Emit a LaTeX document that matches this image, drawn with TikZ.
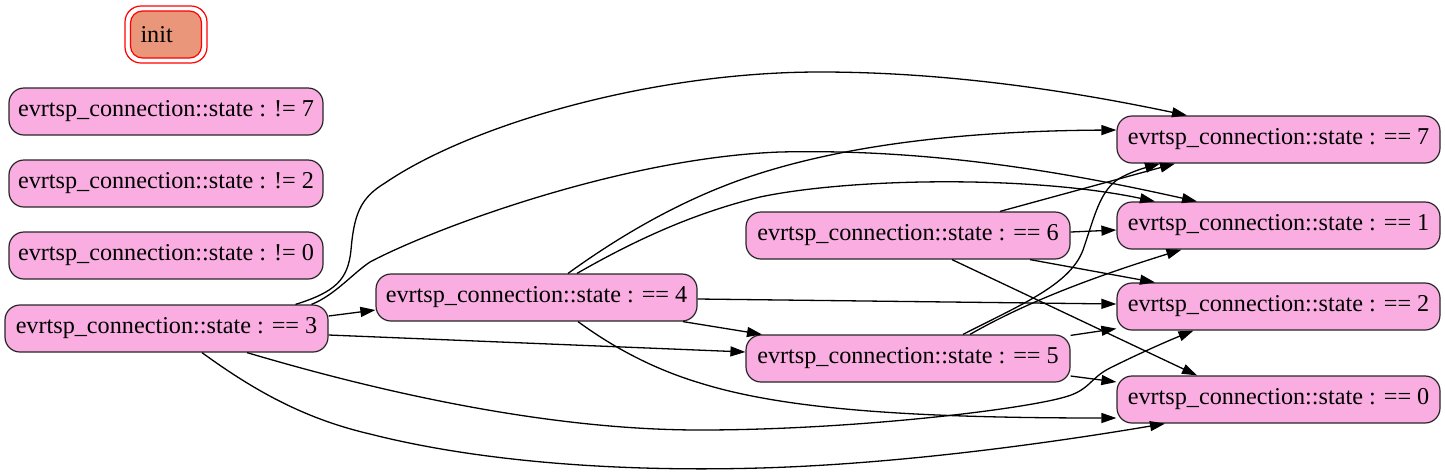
\documentclass[tikz,border=0pt]{standalone}
\usepackage{fontspec}
\setmainfont{Liberation Serif}
\usetikzlibrary{arrows.meta}
\definecolor{nodepink}{RGB}{249,173,225}
\definecolor{initfill}{RGB}{233,150,122}
\begin{document}
\begin{tikzpicture}[x=1pt,y=-1pt,
  state/.style={draw=black!85, line width=1.2pt, fill=nodepink, rounded corners=15pt,
    minimum height=47pt, inner sep=0pt, font=\fontsize{24.2}{28}\selectfont},
  edge/.style={draw=black, line width=1.3pt, -{Triangle[length=15pt,width=10pt]}}]
\useasboundingbox (0,0) rectangle (1445,475);
% init
\node[draw=red, line width=1.2pt, rounded corners=16pt, minimum width=82pt, minimum height=57pt, inner sep=0pt] (initouter) at (166,34.5) {};
\node[draw=red, fill=initfill, line width=1.2pt, rounded corners=12pt, minimum width=71pt, minimum height=47pt, inner sep=0pt, font=\fontsize{24.2}{28}\selectfont] (init) at (166,34.5) {\makebox[51pt][l]{init}};
% left
\node[state, minimum width=314pt] (ne7) at (166,111.5) {evrtsp\_connection::state : != 7};
\node[state, minimum width=314pt] (ne2) at (166,183.5) {evrtsp\_connection::state : != 2};
\node[state, minimum width=314pt] (ne0) at (166,255.5) {evrtsp\_connection::state : != 0};
\node[state, minimum width=323pt] (e3) at (166.5,328.5) {evrtsp\_connection::state : == 3};
\node[state, minimum width=321pt] (e4) at (536.5,297.5) {evrtsp\_connection::state : == 4};
\node[state, minimum width=324pt] (e6) at (908,235.5) {evrtsp\_connection::state : == 6};
\node[state, minimum width=324pt] (e5) at (908,358.5) {evrtsp\_connection::state : == 5};
\node[state, minimum width=323pt] (e7) at (1278.5,139.5) {evrtsp\_connection::state : == 7};
\node[state, minimum width=323pt] (e1) at (1278.5,225.5) {evrtsp\_connection::state : == 1};
\node[state, minimum width=323pt] (e2) at (1278.5,306.5) {evrtsp\_connection::state : == 2};
\node[state, minimum width=323pt] (e0) at (1278.5,399.5) {evrtsp\_connection::state : == 0};
% edges from ==3
\draw[edge] ([xshift=129pt]e3.north) .. controls (335,292) and (348,280) .. (351,250) .. controls (354,215) and (360,198) .. (385,183) .. controls (470,125) and (650,72) .. (820,72) .. controls (960,72) and (1090,95) .. ([xshift=-91.5pt]e7.north);
\draw[edge] ([xshift=145pt]e3.north) .. controls (335,295) and (352,274) .. (370,262) .. controls (430,230) and (620,158) .. (780,152) .. controls (950,148) and (1100,180) .. ([xshift=-81.5pt]e1.north);
\draw[edge] ([yshift=12.5pt]e3.east) -- ([yshift=-12.5pt]e4.west);
\draw[edge] ([yshift=-6.5pt]e3.east) -- ([yshift=6.5pt]e5.west);
\draw[edge] ([xshift=80.5pt]e3.south) .. controls (400,398) and (560,430) .. (700,430) .. controls (850,430) and (1020,410) .. (1065,397) .. controls (1090,390) and (1090,378) .. (1110,368) .. controls (1140,353) and (1170,340) .. ([xshift=-85pt]e2.south);
\draw[edge] ([xshift=35.5pt]e3.south) .. controls (260,395) and (310,420) .. (370,434) .. controls (480,462) and (620,472) .. (760,468) .. controls (900,464) and (1050,443) .. ([xshift=-113.5pt]e0.south);
% edges from ==4
\draw[edge] ([xshift=31.5pt]e4.north) .. controls (610,243) and (670,205) .. (740,180) .. controls (830,148) and (950,131) .. ([yshift=9.5pt]e7.west);
\draw[edge] ([xshift=40.5pt]e4.north) .. controls (630,243) and (690,214) .. (760,197) .. controls (850,178) and (1030,175) .. ([xshift=-123.5pt]e1.north);
\draw[edge] ([yshift=-1.5pt]e4.east) -- ([yshift=2.5pt]e2.west);
\draw[edge] ([xshift=146.5pt]e4.south) -- ([xshift=-146pt]e5.north);
\draw[edge] ([xshift=41.5pt]e4.south) .. controls (610,345) and (650,368) .. (700,383) .. controls (780,408) and (900,418) .. ([yshift=-18.5pt]e0.west);
% edges from ==6
\draw[edge] ([xshift=92pt]e6.north) -- ([xshift=-103.5pt]e7.south);
\draw[edge] ([yshift=3.5pt]e6.east) -- ([yshift=-4.5pt]e1.west);
\draw[edge] ([xshift=122pt]e6.south) -- ([xshift=-123.5pt]e2.north);
\draw[edge] ([xshift=44pt]e6.south) -- ([xshift=-81.5pt]e0.north);
% edges from ==5
\draw[edge] ([xshift=55pt]e5.north) .. controls (1020,305) and (1070,285) .. (1083,250) .. controls (1095,215) and (1100,190) .. (1120,178) .. controls (1135,170) and (1148,167) .. ([xshift=-118.5pt]e7.south);
\draw[edge] ([xshift=62pt]e5.north) .. controls (1030,300) and (1100,275) .. ([xshift=-97pt]e1.south);
\draw[edge] ([yshift=-1pt]e5.north east) -- ([yshift=2pt]e2.south west);
\draw[edge] ([yshift=-17.5pt]e5.east) -- ([yshift=17.5pt]e0.west);
\end{tikzpicture}
\end{document}
